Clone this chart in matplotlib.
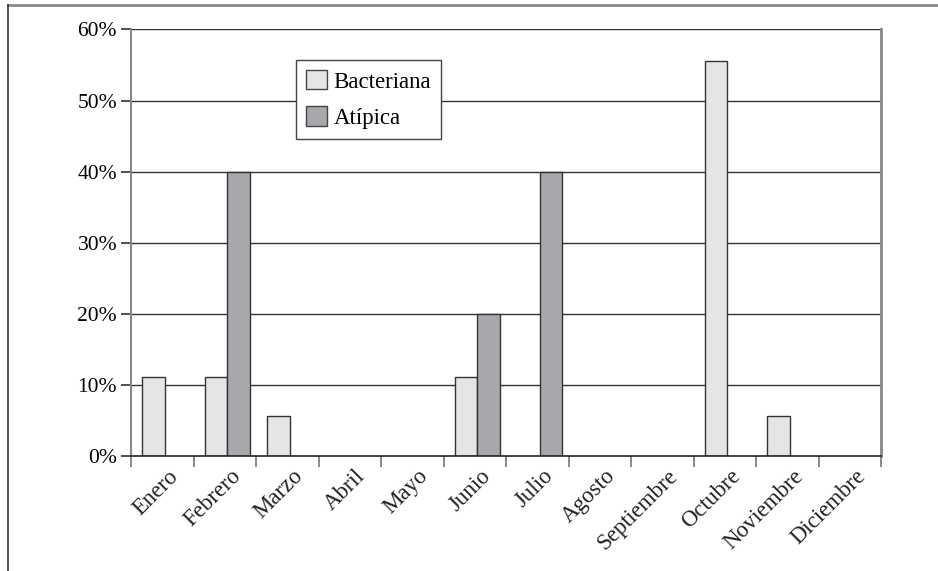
import matplotlib
matplotlib.use("Agg")
import matplotlib.pyplot as plt
from matplotlib.lines import Line2D
from matplotlib.patches import Patch
from matplotlib.ticker import FuncFormatter, FixedLocator
import numpy as np

months = ["Enero", "Febrero", "Marzo", "Abril", "Mayo", "Junio", "Julio",
          "Agosto", "Septiembre", "Octubre", "Noviembre", "Diciembre"]
bacteriana = [11.1, 11.1, 5.6, 0, 0, 11.1, 0, 0, 0, 55.6, 5.6, 0]
atipica = [0, 40.0, 0, 0, 0, 20.0, 40.0, 0, 0, 0, 0, 0]
yticks = [0, 10, 20, 30, 40, 50, 60]

plt.rcParams["font.family"] = ["Liberation Serif", "DejaVu Serif"]

fig = plt.figure(figsize=(9.38, 5.71), dpi=100)
ax = fig.add_axes([131 / 938, 1 - 456 / 571, 750 / 938, 426.6 / 571])

x = np.arange(len(months))
w = 0.36
light = "#e4e5e7"
dark = "#a7a8ab"
edge = "#333333"

# gridlines under the bars
for v in yticks[1:]:
    ax.axhline(v, color="#333333", lw=1.0, zorder=1)

for i in x:
    if bacteriana[i] > 0:
        ax.bar(i - w / 2 + 0.04, bacteriana[i], width=w, color=light,
               edgecolor=edge, linewidth=1.0, zorder=2)
    if atipica[i] > 0:
        ax.bar(i + w / 2 + 0.04, atipica[i], width=w, color=dark,
               edgecolor=edge, linewidth=1.0, zorder=2)

ax.set_xlim(-0.5, 11.5)
ax.set_ylim(0, 60)
ax.yaxis.set_major_locator(FixedLocator(yticks))
ax.yaxis.set_major_formatter(FuncFormatter(lambda v, p: f"{int(v)}%"))

ax.set_xticks(np.arange(-0.5, 12, 1.0))
ax.set_xticklabels([])
ax.tick_params(axis="x", direction="out", length=8, width=1.2, color="#777777")
ax.tick_params(axis="y", direction="out", length=7, width=1.2, color="#333333",
               labelsize=15.5, pad=3)

for i, m in enumerate(months):
    ax.text(i + 0.2, -2.4, m, rotation=45, rotation_mode="anchor",
            ha="right", va="center", fontsize=16.5, color="#222222")

ax.spines["top"].set_visible(False)
ax.spines["left"].set_color("#888888")
ax.spines["left"].set_linewidth(1.5)
ax.spines["right"].set_color("#888888")
ax.spines["right"].set_linewidth(2.0)
ax.spines["bottom"].set_color("#222222")
ax.spines["bottom"].set_linewidth(1.2)

handles = [Patch(facecolor=light, edgecolor="#444444", label="Bacteriana"),
           Patch(facecolor=dark, edgecolor="#444444", label="Atípica")]
leg = ax.legend(handles=handles, loc="upper left",
                bbox_to_anchor=((295.7 - 131) / 750, (456 - 60) / 426.6),
                fontsize=16.5, frameon=True, fancybox=False, framealpha=1,
                edgecolor="#444444", handlelength=0.9, handleheight=0.9,
                handletextpad=0.3, borderpad=0.45, labelspacing=0.6,
                borderaxespad=0)
leg.get_frame().set_linewidth(1.0)
leg.set_zorder(5)

# outer frame lines
fig.add_artist(Line2D([8 / 938, 1], [1 - 5 / 571, 1 - 5 / 571],
                      transform=fig.transFigure, color="#888888", lw=2))
fig.add_artist(Line2D([8 / 938, 8 / 938], [1 - 5 / 571, 0],
                      transform=fig.transFigure, color="#333333", lw=1.2))

fig.savefig("out.png", dpi=100)
